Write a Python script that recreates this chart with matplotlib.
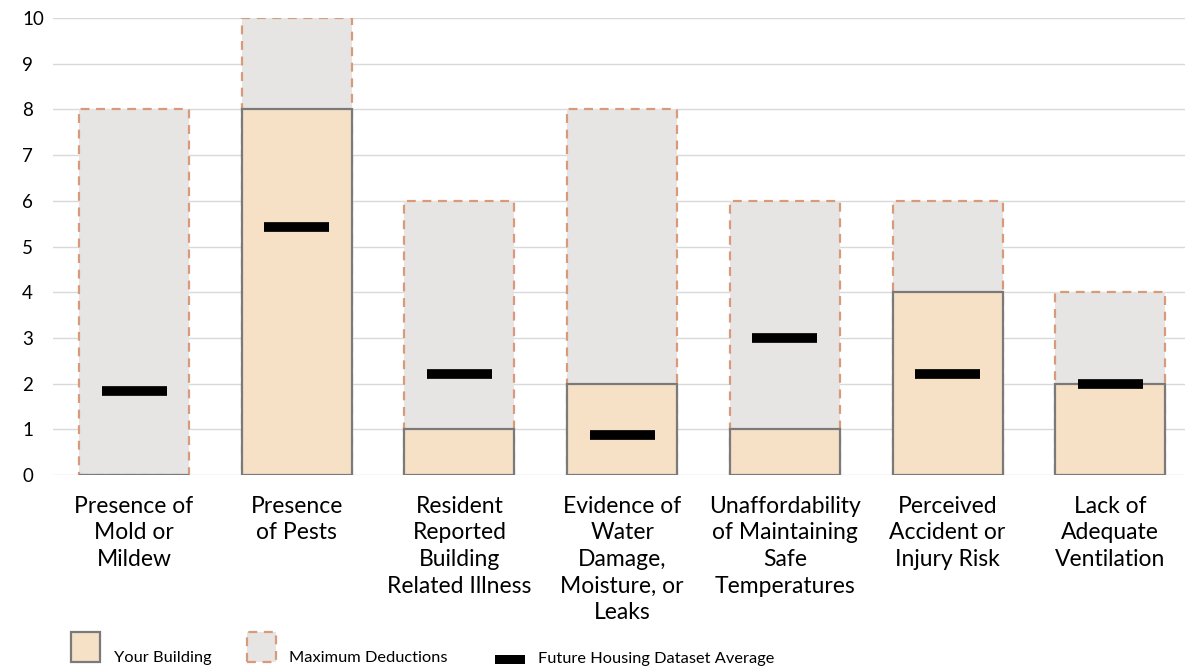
import matplotlib
matplotlib.use("Agg")
import matplotlib.pyplot as plt
from matplotlib.patches import Rectangle

categories = [
    "Presence of\nMold or\nMildew",
    "Presence\nof Pests",
    "Resident\nReported\nBuilding\nRelated Illness",
    "Evidence of\nWater\nDamage,\nMoisture, or\nLeaks",
    "Unaffordability\nof Maintaining\nSafe\nTemperatures",
    "Perceived\nAccident or\nInjury Risk",
    "Lack of\nAdequate\nVentilation",
]
max_deductions = [8, 10, 6, 8, 6, 6, 4]
your_building = [0, 8, 1, 2, 1, 4, 2]
dataset_average = [1.83, 5.43, 2.21, 0.87, 2.99, 2.21, 2.0]
yticks = list(range(0, 11))

FONT = ["Lato", "DejaVu Sans"]
plt.rcParams["font.family"] = FONT

W, H = 1185, 669
fig = plt.figure(figsize=(W / 100, H / 100), dpi=100)
left_px, right_px, top_px, bot_px = 52.7, 1185, 18, 475
ax = fig.add_axes([left_px / W, (H - bot_px) / H, (right_px - left_px) / W, (bot_px - top_px) / H])

peach = "#F7E1C6"
grey = "#E7E5E4"
dash_edge = "#D79A7B"
solid_edge = "#7A7A7A"
bw = 0.676
x = list(range(len(categories)))

ax.bar(x, max_deductions, width=bw, color=grey, edgecolor=dash_edge,
       linewidth=1.6, linestyle=(0, (4, 3)), zorder=2)
ax.bar(x, your_building, width=bw, color=peach, edgecolor=solid_edge,
       linewidth=1.6, zorder=3)
ax.hlines(dataset_average, [i - 0.2 for i in x], [i + 0.2 for i in x],
          colors="black", linewidth=7, zorder=4)

ax.set_ylim(0, 10)
ax.set_xlim(-0.5, (right_px - left_px) / 162.7 - 0.5)
ax.set_yticks(yticks)
ax.set_xticks(x)
ax.set_xticklabels(categories, fontsize=16.5, linespacing=1.33, va="top")
ax.tick_params(axis="x", length=0, pad=15)
ax.tick_params(axis="y", length=0, labelsize=13.5, pad=22)
for t in ax.get_yticklabels():
    t.set_horizontalalignment("left")
ax.grid(axis="y", color="#D9D9D9", linewidth=1, zorder=0)
ax.set_axisbelow(True)
for s in ax.spines.values():
    s.set_visible(False)

# legend drawn manually
def px_rect(x0, y0, w, h, **kw):
    fig.add_artist(Rectangle((x0 / W, (H - y0 - h) / H), w / W, h / H,
                             transform=fig.transFigure, **kw))

px_rect(71, 632, 29, 30, facecolor=peach, edgecolor=solid_edge, linewidth=1.6)
fig.text(114 / W, (H - 658) / H, "Your Building", fontsize=11.8, va="center")
px_rect(247, 632, 29, 30, facecolor=grey, edgecolor=dash_edge, linewidth=1.6,
        linestyle=(0, (4, 3)))
fig.text(289 / W, (H - 658) / H, "Maximum Deductions", fontsize=11.8, va="center")
px_rect(495, 655, 30, 9, facecolor="black", edgecolor="black", linewidth=0)
fig.text(538 / W, (H - 659) / H, "Future Housing Dataset Average", fontsize=11.8, va="center")

fig.savefig("out.png", dpi=100)
